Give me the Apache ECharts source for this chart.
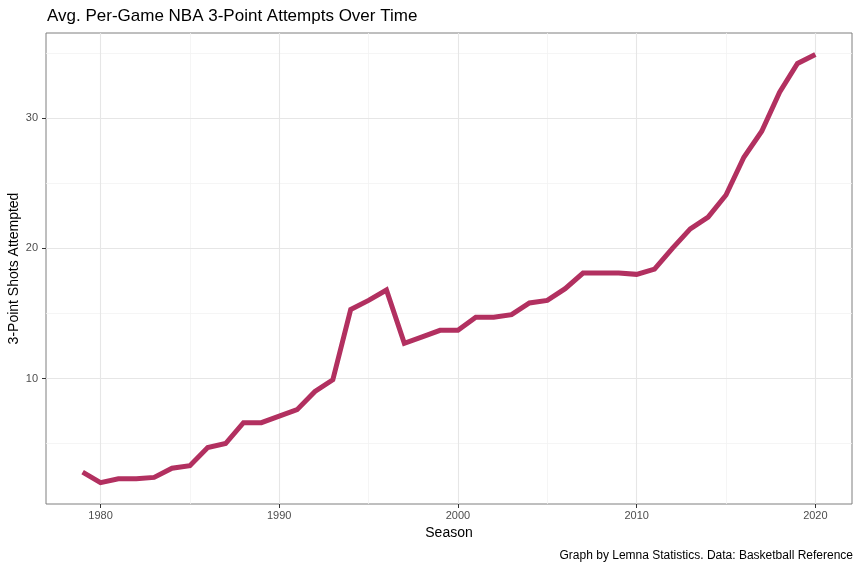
<!DOCTYPE html>
<html>
<head>
<meta charset="utf-8">
<script src="https://cdn.jsdelivr.net/npm/echarts@6/dist/echarts.min.js"></script>
<style>
  html, body { margin: 0; padding: 0; background: #fff; }
  #chart { width: 860px; height: 569px; }
</style>
</head>
<body>
<div id="chart"></div>
<script>
var seasons = [1979, 1980, 1981, 1982, 1983, 1984, 1985, 1986, 1987, 1988,
    1989, 1990, 1991, 1992, 1993, 1994, 1995, 1996, 1997, 1998,
    1999, 2000, 2001, 2002, 2003, 2004, 2005, 2006, 2007, 2008,
    2009, 2010, 2011, 2012, 2013, 2014, 2015, 2016, 2017, 2018,
    2019, 2020];
var attempts = [2.8, 2.0, 2.3, 2.3, 2.4, 3.1, 3.3, 4.7, 5.0, 6.6,
    6.6, 7.1, 7.6, 9.0, 9.9, 15.3, 16.0, 16.8, 12.7, 13.2,
    13.7, 13.7, 14.7, 14.7, 14.9, 15.8, 16.0, 16.9, 18.1, 18.1,
    18.1, 18.0, 18.4, 20.0, 21.5, 22.4, 24.1, 27.0, 29.0, 32.0,
    34.2, 34.9];
var xMajor = [1980, 1990, 2000, 2010, 2020];
var xMinor = [1985, 1995, 2005, 2015];
var yMajor = [10, 20, 30];
var yMinor = [5, 15, 25, 35];

// ggplot-style 5% expansion of the data range
function expand(lo, hi) {
    var pad = (hi - lo) * 0.05;
    return [lo - pad, hi + pad];
}
var xRange = expand(Math.min.apply(null, seasons), Math.max.apply(null, seasons));
var yRange = expand(Math.min.apply(null, attempts), Math.max.apply(null, attempts));

var majorStyle = {color: "#e6e6e6", width: 1.1, type: "solid"};
var minorStyle = {color: "#f2f2f2", width: 0.8, type: "solid"};

var gridLines = [];
xMinor.forEach(function(v) { gridLines.push({xAxis: v, lineStyle: minorStyle}); });
yMinor.forEach(function(v) { gridLines.push({yAxis: v, lineStyle: minorStyle}); });
xMajor.forEach(function(v) { gridLines.push({xAxis: v, lineStyle: majorStyle}); });
yMajor.forEach(function(v) { gridLines.push({yAxis: v, lineStyle: majorStyle}); });

var font = "'Liberation Sans', Arial, sans-serif";
var chart = echarts.init(document.getElementById("chart"));
chart.setOption({
    animation: false,
    textStyle: {fontFamily: font},
    title: [{
        text: "Avg. Per-Game NBA 3-Point Attempts Over Time",
        left: 42,
        top: 3,
        textStyle: {fontSize: 17, fontWeight: "normal", color: "#000", fontFamily: font}
    }, {
        text: "Graph by Lemna Statistics. Data: Basketball Reference",
        right: 2,
        top: 545,
        textStyle: {fontSize: 12, fontWeight: "normal", color: "#000", fontFamily: font}
    }],
    grid: {left: 46, right: 8, top: 33, bottom: 65, show: true,
        outerBoundsMode: "none", containLabel: false,
        borderColor: "#7f7f7f", borderWidth: 1, backgroundColor: "#fff"},
    xAxis: {
        type: "value",
        min: xRange[0],
        max: xRange[1],
        name: "Season",
        nameLocation: "middle",
        nameGap: 22,
        nameMoveOverlap: false,
        nameTextStyle: {fontSize: 14, color: "#000", fontFamily: font},
        axisLine: {show: false},
        axisTick: {show: true, length: 4, customValues: xMajor, lineStyle: {color: "#333", width: 1}},
        axisLabel: {customValues: xMajor, fontSize: 11, color: "#4d4d4d", margin: 6, fontFamily: font,
            formatter: function(v) { return String(v); }},
        splitLine: {show: false}
    },
    yAxis: {
        type: "value",
        min: yRange[0],
        max: yRange[1],
        name: "3-Point Shots Attempted",
        nameLocation: "middle",
        nameGap: 25,
        nameRotate: 90,
        nameMoveOverlap: false,
        nameTextStyle: {fontSize: 14, color: "#000", fontFamily: font},
        axisLine: {show: false},
        axisTick: {show: true, length: 4, customValues: yMajor, lineStyle: {color: "#333", width: 1}},
        axisLabel: {customValues: yMajor, fontSize: 11, color: "#4d4d4d", margin: 8, fontFamily: font,
            formatter: function(v) { return String(v); }},
        splitLine: {show: false}
    },
    series: [{
        // carries the panel grid lines only
        type: "line",
        data: [],
        silent: true,
        z: 1,
        markLine: {
            silent: true,
            symbol: "none",
            label: {show: false},
            animation: false,
            data: gridLines
        }
    }, {
        name: "3PA",
        type: "line",
        z: 5,
        showSymbol: false,
        data: seasons.map(function(s, i) { return [s, attempts[i]]; }),
        lineStyle: {color: "#b23060", width: 5, cap: "butt", join: "miter"},
        itemStyle: {color: "#b23060"}
    }]
});
</script>
</body>
</html>
